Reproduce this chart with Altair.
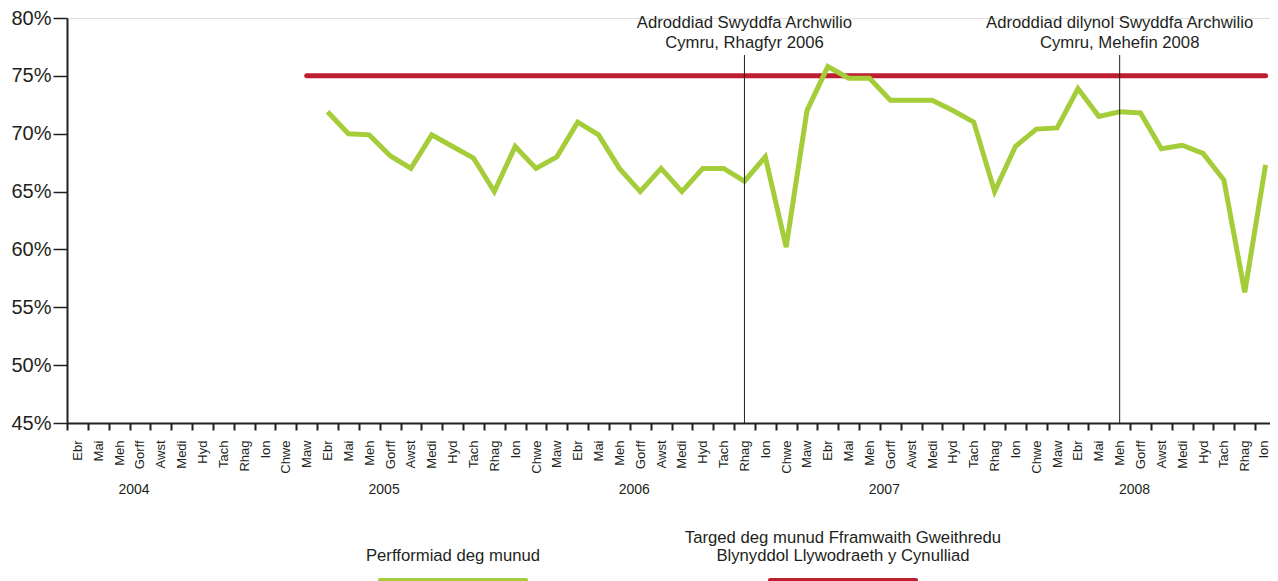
import altair as alt
import pandas as pd

# ---------------- data ----------------
months = ["Ebr", "Mai", "Meh", "Gorff", "Awst", "Medi", "Hyd", "Tach", "Rhag", "Ion", "Chwe", "Maw"]
years = ["2004", "2005", "2006", "2007", "2008"]
months_per_year = [12, 12, 12, 12, 10]

# ten-minute performance, Ebr 2005 .. Ion (2008/09)
perf_start_year = "2005"
performance = [
    71.9, 70.0, 69.9, 68.1, 67.0, 69.9, 68.9, 67.9, 65.0, 68.9, 67.0, 68.0,
    71.0, 69.9, 67.0, 65.0, 67.0, 65.0, 67.0, 67.0, 65.9, 68.0, 60.2, 72.0,
    75.8, 74.8, 74.8, 72.9, 72.9, 72.9, 72.0, 71.0, 65.0, 68.9, 70.4, 70.5,
    73.9, 71.5, 71.9, 71.8, 68.7, 69.0, 68.3, 66.0, 56.3, 67.3,
]

# target line: 75% from Maw (2004/05) onward
target_value = 75
target_start = ("2004", "Maw")

annot_year = ["2006", "2008"]
annot_month = ["Rhag", "Meh"]
annot_line1 = ["Adroddiad Swyddfa Archwilio", "Adroddiad dilynol Swyddfa Archwilio"]
annot_line2 = ["Cymru, Rhagfyr 2006", "Cymru, Mehefin 2008"]

y_ticks = [45, 50, 55, 60, 65, 70, 75, 80]

legend_label_perf = "Perfformiad deg munud"
legend_label_target_1 = "Targed deg munud Fframwaith Gweithredu"
legend_label_target_2 = "Blynyddol Llywodraeth y Cynulliad"

GREEN = "#A4CD39"
RED = "#BE1E30"
INK = "#231F20"
FONT = "Liberation Sans"

# ---------------- build tables ----------------
keys = []
key_of = {}
for y, n in zip(years, months_per_year):
    for i in range(n):
        k = f"{y}|{i:02d}|{months[i]}"
        keys.append(k)
        key_of[(y, months[i])] = k

perf_keys = [k for k in keys if k.split("|")[0] >= perf_start_year]
perf_df = pd.DataFrame({"key": perf_keys[:len(performance)], "value": performance})

t_idx = keys.index(key_of[target_start])
target_df = pd.DataFrame({"key": keys[t_idx:], "value": [target_value] * (len(keys) - t_idx)})

annot_df = pd.DataFrame({
    "key": [key_of[(y, m)] for y, m in zip(annot_year, annot_month)],
    "l1": annot_line1,
    "l2": annot_line2,
    "top": [76.8, 76.8],
    "bottom": [45, 45],
})

year_df = pd.DataFrame({"key": [key_of[(y, "Gorff")] for y in years], "year": years})

# the page is 1278 wide with an 8px margin each side: the chart is 1262 wide,
# the x axis runs on to the right edge of the picture (clipped there)
LEFT = 59
W, H = 1262 - LEFT, 405
X_RANGE = 1209
TXT = 16.7

x_axis = alt.Axis(
    title=None,
    labelExpr="split(datum.value, '|')[2]",
    labelAngle=-90, labelAlign="right", labelBaseline="middle",
    labelFontSize=13, labelFont=FONT, labelColor=INK, labelPadding=10,
    labelOffset={"condition": {"test": "datum.index == 1", "value": -2}, "value": 0},
    tickBand="extent", tickSize=7, tickWidth=2, tickColor=INK,
    domainColor=INK, domainWidth=2, grid=False,
)
y_axis = alt.Axis(
    title=None, values=y_ticks, labelExpr="datum.value + '%'",
    labelFontSize=20, labelFont=FONT, labelColor=INK, labelPadding=2,
    tickSize=14, tickWidth=1.5, tickColor=INK,
    domainColor=INK, domainWidth=2, grid=False,
)

def X():
    return alt.X("key:N", bandPosition=0.5,
                 scale=alt.Scale(type="band", domain=keys, paddingInner=0, paddingOuter=0,
                                 range=[0, X_RANGE]),
                 axis=x_axis)

def Y(field="value"):
    return alt.Y(f"{field}:Q", scale=alt.Scale(domain=[45, 80], nice=False, zero=False), axis=y_axis)

target = alt.Chart(target_df).mark_line(color=RED, strokeWidth=5, strokeCap="round").encode(x=X(), y=Y())
perf = alt.Chart(perf_df).mark_line(color=GREEN, strokeWidth=5, strokeJoin="miter").encode(x=X(), y=Y())

vrules = alt.Chart(annot_df).mark_rule(color=INK, strokeWidth=1).encode(
    x=X(), y=Y("top"), y2="bottom:Q")
atext1 = alt.Chart(annot_df).mark_text(font=FONT, fontSize=TXT, color=INK, baseline="middle").encode(
    x=X(), y=alt.value(5), text="l1:N")
atext2 = alt.Chart(annot_df).mark_text(font=FONT, fontSize=TXT, color=INK, baseline="middle").encode(
    x=X(), y=alt.value(25), text="l2:N")

ytext = alt.Chart(year_df).mark_text(font=FONT, fontSize=14, color=INK, baseline="middle", dx=-6).encode(
    x=X(), y=alt.value(472), text="year:N")

leg_df = pd.DataFrame({"a": [0]})

def leg_text(t, x, y):
    return alt.Chart(leg_df).mark_text(font=FONT, fontSize=TXT, color=INK, baseline="middle", text=t).encode(
        x=alt.value(x), y=alt.value(y))

leg_perf_text = leg_text(legend_label_perf, 386, 538)
leg_t1 = leg_text(legend_label_target_1, 776, 520)
leg_t2 = leg_text(legend_label_target_2, 776, 538)
leg_perf_sw = alt.Chart(leg_df).mark_rect(color=GREEN, cornerRadius=2).encode(
    x=alt.value(311), x2=alt.value(461), y=alt.value(560), y2=alt.value(572))
leg_target_sw = alt.Chart(leg_df).mark_rect(color=RED, cornerRadius=2).encode(
    x=alt.value(701), x2=alt.value(851), y=alt.value(560), y2=alt.value(572))

chart = alt.layer(
    target, perf, vrules, atext1, atext2, ytext,
    leg_perf_text, leg_t1, leg_t2, leg_perf_sw, leg_target_sw,
).properties(
    width=W, height=H,
    autosize=alt.AutoSizeParams(type="none"),
    padding={"left": LEFT, "top": 10, "right": 0, "bottom": 165},
).configure_view(stroke=None).configure(font=FONT)

chart.save("out.html", embed_options={"renderer": "svg", "actions": False})
